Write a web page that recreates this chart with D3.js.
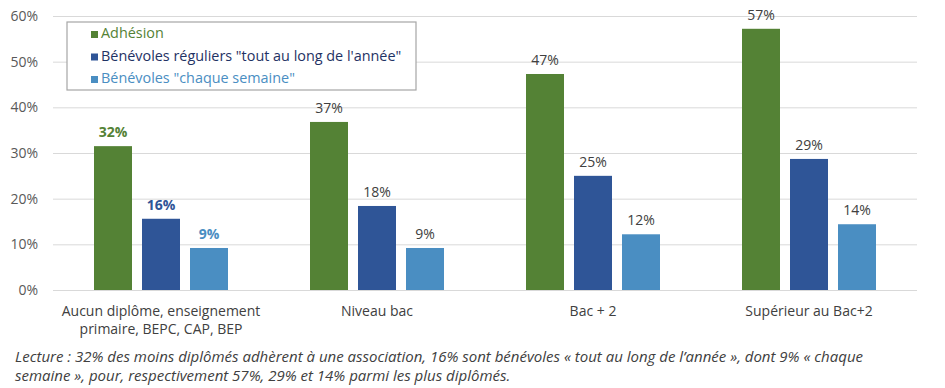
<!DOCTYPE html>
<html>
<head>
<meta charset="utf-8">
<script src="https://cdn.jsdelivr.net/npm/d3@7"></script>
<style>
  body { margin: 0; background: #fff; }
  svg text { font-family: "Open Sans", "Noto Sans", sans-serif; }
</style>
</head>
<body>
<div id="chart"></div>
<script>
const categories = [
  ["Aucun diplôme, enseignement", "primaire, BEPC, CAP, BEP"],
  ["Niveau bac"],
  ["Bac + 2"],
  ["Supérieur au Bac+2"]
];
const seriesNames = ["Adhésion", "Bénévoles réguliers \"tout au long de l'année\"", "Bénévoles \"chaque semaine\""];
const adhesion = [31.5, 36.8, 47.3, 57.2];
const reguliers = [15.6, 18.4, 25.0, 28.7];
const semaine = [9.2, 9.2, 12.2, 14.4];
const valueLabels = [
  ["32%", "37%", "47%", "57%"],
  ["16%", "18%", "25%", "29%"],
  ["9%", "9%", "12%", "14%"]
];
const yTicks = [0, 10, 20, 30, 40, 50, 60];
const note = [
  "Lecture : 32% des moins diplômés adhèrent à une association, 16% sont bénévoles « tout au long de l’année », dont 9% « chaque",
  "semaine », pour, respectivement 57%, 29% et 14% parmi les plus diplômés."
];

const colors = ["#548235", "#2f5597", "#4a8ec2"];
const textColors = ["#548235", "#1f3264", "#4a8ec2"];

const svgWidth = 945, svgHeight = 388;
const margin = { top: 16, right: 28, bottom: 98, left: 53 };
const width = svgWidth - margin.left - margin.right;
const height = svgHeight - margin.top - margin.bottom;

const svg = d3.select("#chart").append("svg")
  .attr("width", svgWidth)
  .attr("height", svgHeight);

const g = svg.append("g").attr("transform", `translate(${margin.left},${margin.top})`);

const series = [adhesion, reguliers, semaine];

const x0 = d3.scaleBand().domain(d3.range(categories.length)).range([0, width]);
const x1 = d3.scaleBand().domain(d3.range(series.length))
  .range([(x0.bandwidth() - 134) / 2, (x0.bandwidth() + 134) / 2])
  .paddingInner(10 / 48);
const y = d3.scaleLinear().domain([0, 60]).range([height, 0]);

// grid
g.append("g")
  .call(d3.axisLeft(y).tickValues(yTicks).tickSize(-width).tickFormat(d => d + "%"))
  .call(a => a.select(".domain").remove())
  .call(a => a.selectAll("line").attr("stroke", "#d9d9d9").attr("stroke-width", 1))
  .call(a => a.selectAll("text").attr("x", -15).attr("fill", "#595959").attr("font-size", 14));

const groups = g.selectAll(".grp")
  .data(categories)
  .enter().append("g")
  .attr("transform", (d, i) => `translate(${x0(i)},0)`);

series.forEach((vals, s) => {
  groups.append("rect")
    .attr("x", x1(s))
    .attr("width", x1.bandwidth())
    .attr("y", (d, i) => y(vals[i]))
    .attr("height", (d, i) => height - y(vals[i]))
    .attr("fill", colors[s]);

  groups.append("text")
    .attr("x", x1(s) + x1.bandwidth() / 2)
    .attr("y", (d, i) => y(vals[i]) - 9)
    .attr("text-anchor", "middle")
    .attr("font-size", 14)
    .attr("font-weight", (d, i) => i === 0 ? "bold" : "normal")
    .attr("fill", (d, i) => i === 0 ? colors[s] : "#404040")
    .text((d, i) => valueLabels[s][i]);
});

// category labels
groups.append("text")
  .attr("x", x0.bandwidth() / 2)
  .attr("y", height + 26)
  .attr("text-anchor", "middle")
  .attr("font-size", 14)
  .attr("fill", "#404040")
  .selectAll("tspan")
  .data(d => d)
  .enter().append("tspan")
  .attr("x", x0.bandwidth() / 2)
  .attr("dy", (d, i) => i === 0 ? 0 : 18)
  .text(d => d);

// legend
const legend = svg.append("g").attr("transform", "translate(67,22)");
legend.append("rect")
  .attr("width", 349).attr("height", 68)
  .attr("fill", "#fff").attr("stroke", "#a6a6a6").attr("stroke-width", 1.2);
seriesNames.forEach((name, i) => {
  const row = legend.append("g").attr("transform", `translate(24,${16 + i * 22.5})`);
  row.append("rect").attr("width", 7).attr("height", 7).attr("y", -7).attr("fill", colors[i]);
  row.append("text")
    .attr("x", 10).attr("y", 0)
    .attr("font-size", 14.4)
    .attr("fill", textColors[i])
    .text(name);
});

// note
svg.append("g").selectAll("text")
  .data(note)
  .enter().append("text")
  .attr("x", 15)
  .attr("y", (d, i) => 362 + i * 19)
  .attr("font-size", 15)
  .attr("font-style", "italic")
  .attr("fill", "#404040")
  .text(d => d);
</script>
</body>
</html>
